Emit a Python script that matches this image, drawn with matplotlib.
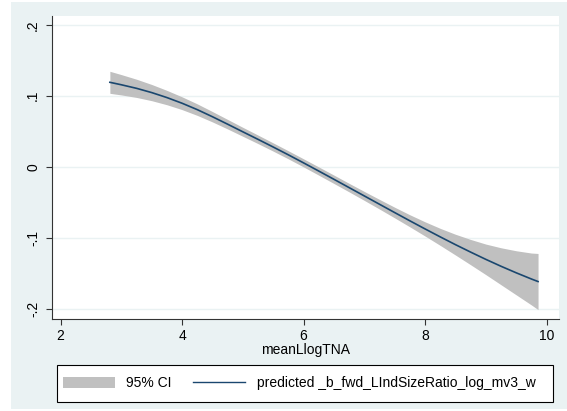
import matplotlib.pyplot as plt
from matplotlib.patches import Rectangle, Patch
from matplotlib.lines import Line2D

plt.rcParams['font.family'] = ['Liberation Sans', 'DejaVu Sans']

# values
meanLlogTNA = [2.81, 3.0, 3.25, 3.5, 3.75, 4.0, 4.25, 4.5, 4.75, 5.0, 5.25, 5.5, 5.75,
               6.0, 6.25, 6.5, 6.75, 7.0, 7.25, 7.5, 7.75, 8.0, 8.25, 8.5, 8.75,
               9.0, 9.25, 9.5, 9.75, 9.86]
predicted = [0.1190, 0.1155, 0.1105, 0.1045, 0.0975, 0.0895, 0.0805, 0.0705, 0.0600,
             0.0493, 0.0387, 0.0279, 0.0169, 0.0056, -0.0059, -0.0175, -0.0292,
             -0.0409, -0.0526, -0.0643, -0.0759, -0.0873, -0.0985, -0.1094, -0.1199,
             -0.1301, -0.1398, -0.1490, -0.1577, -0.1613]
ci_low = [0.1035, 0.1012, 0.0977, 0.0931, 0.0874, 0.0805, 0.0724, 0.0632, 0.0533,
          0.0430, 0.0327, 0.0221, 0.0112, -0.0001, -0.0117, -0.0234, -0.0352,
          -0.0472, -0.0594, -0.0718, -0.0844, -0.0973, -0.1105, -0.1240, -0.1377,
          -0.1516, -0.1658, -0.1800, -0.1942, -0.2008]
ci_high = [0.1345, 0.1298, 0.1233, 0.1159, 0.1076, 0.0985, 0.0886, 0.0778, 0.0667,
           0.0556, 0.0447, 0.0337, 0.0226, 0.0113, -0.0001, -0.0116, -0.0232,
           -0.0346, -0.0458, -0.0568, -0.0674, -0.0773, -0.0865, -0.0948, -0.1021,
           -0.1086, -0.1138, -0.1180, -0.1212, -0.1218]

xticks = [2, 4, 6, 8, 10]
yticks = [-0.2, -0.1, 0, 0.1, 0.2]
yticklabels = ['-.2', '-.1', '0', '.1', '.2']

bg = '#EAF2F3'
navy = '#1A476F'
ci_gray = '#C0C0C0'

W, H = 567, 411
fig = plt.figure(figsize=(W / 100, H / 100), dpi=100, facecolor='white')
fig.patches.append(Rectangle((11 / W, 2 / H), 1 - 11 / W, 407 / H,
                             transform=fig.transFigure, facecolor=bg,
                             edgecolor='none', zorder=-10))

ax = fig.add_axes([52 / W, 1 - 319 / H, (558.7 - 52) / W, (319 - 15.7) / H])
ax.set_facecolor('white')

ax.fill_between(meanLlogTNA, ci_low, ci_high, color=ci_gray, linewidth=0, zorder=2)
ax.plot(meanLlogTNA, predicted, color=navy, linewidth=1.2, zorder=3)

ax.set_xlim(1.857, 10.2)
ax.set_ylim(-0.214, 0.2127)
ax.set_xticks(xticks)
ax.set_yticks(yticks)
ax.set_yticklabels(yticklabels, rotation=90, va='center')
ax.yaxis.grid(True, color=bg, linewidth=1.0, zorder=0)
ax.set_axisbelow(True)

for s in ['top', 'right']:
    ax.spines[s].set_visible(False)
for s in ['left', 'bottom']:
    ax.spines[s].set_color('#333333')
    ax.spines[s].set_linewidth(0.8)
ax.tick_params(direction='out', length=4.5, width=0.8, color='#333333',
               labelsize=10, labelcolor='black')
ax.tick_params(axis='y', pad=4)
ax.tick_params(axis='x', pad=3)
ax.set_xlabel('meanLlogTNA', fontsize=10, labelpad=0)

# legend box
fig.patches.append(Rectangle((56.7 / W, 1 - 401.7 / H), (553 - 56.7) / W, 36.7 / H,
                             transform=fig.transFigure, facecolor='white',
                             edgecolor='black', linewidth=0.8, zorder=5))
handles = [Patch(facecolor=ci_gray, edgecolor='none'),
           Line2D([0], [0], color=navy, linewidth=1.0)]
labels = ['95% CI', 'predicted _b_fwd_LIndSizeRatio_log_mv3_w']
leg = fig.legend(handles, labels, ncol=2, loc='center left',
                 bbox_to_anchor=(62.7 / W, 1 - 383.35 / H),
                 bbox_transform=fig.transFigure, borderaxespad=0, borderpad=0,
                 frameon=False, fontsize=10, handlelength=3.75,
                 handleheight=0.86, handletextpad=0.8, columnspacing=1.58)
leg.set_zorder(6)

fig.savefig('out.png', dpi=100, facecolor='white')
